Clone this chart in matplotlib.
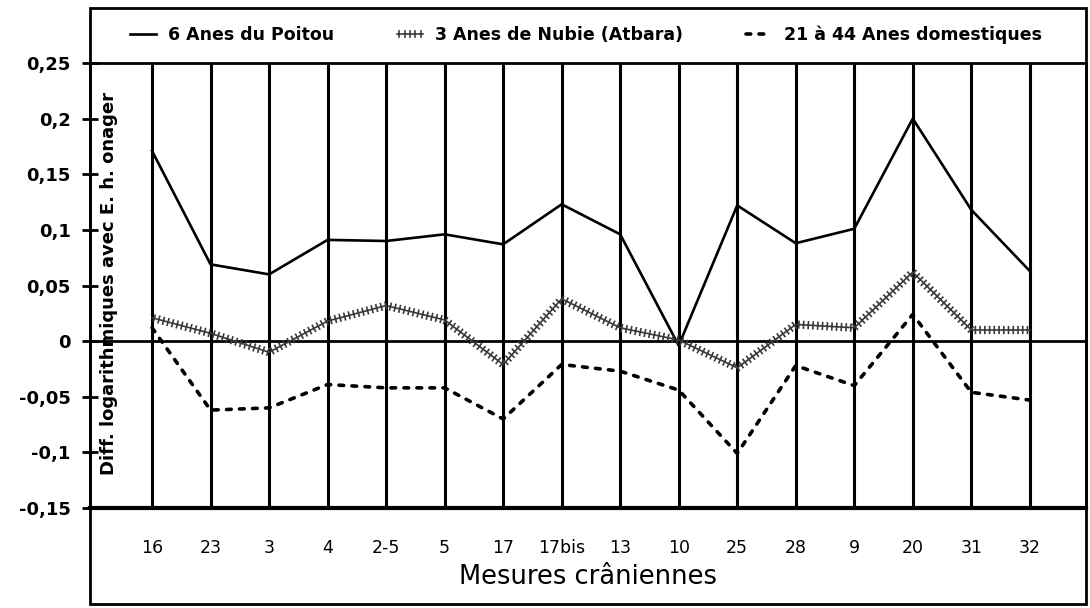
import matplotlib
matplotlib.use("Agg")
import matplotlib.pyplot as plt
import matplotlib.patheffects as pe
from matplotlib.patches import Rectangle

# data
mesures = ['16', '23', '3', '4', '2-5', '5', '17', '17bis', '13', '10',
           '25', '28', '9', '20', '31', '32']
poitou = [0.171, 0.069, 0.060, 0.091, 0.090, 0.096, 0.087, 0.123, 0.096, -0.004,
          0.122, 0.088, 0.101, 0.200, 0.118, 0.063]
nubie = [0.021, 0.007, -0.010, 0.018, 0.032, 0.019, -0.021, 0.038, 0.012, 0.001,
         -0.024, 0.015, 0.012, 0.062, 0.010, 0.010]
domestiques = [0.012, -0.062, -0.060, -0.039, -0.042, -0.042, -0.070, -0.021, -0.027, -0.044,
               -0.101, -0.022, -0.040, 0.024, -0.046, -0.053]
y_ticks = [-0.15, -0.1, -0.05, 0, 0.05, 0.1, 0.15, 0.2, 0.25]
y_labels = ['-0,15', '-0,1', '-0,05', '0', '0,05', '0,1', '0,15', '0,2', '0,25']

W, H = 1090, 608
fig = plt.figure(figsize=(W / 100, H / 100), dpi=100)
ax = fig.add_axes([90 / W, 1 - 508 / H, (1086 - 90) / W, (508 - 63) / H])

x = list(range(len(mesures)))

ax.plot(x, poitou, color='black', lw=1.9, label='6 Anes du Poitou', zorder=4)
ax.plot(x, nubie, color='#3a3a3a', lw=1.2, label='3 Anes de Nubie (Atbara)', zorder=4,
        path_effects=[pe.withTickedStroke(angle=90, spacing=3.4, length=0.7),
                      pe.TickedStroke(angle=-90, spacing=3.4, length=0.7)])
ax.plot(x, domestiques, color='black', lw=2.6, linestyle=(0, (1.3, 2.3)),
        dash_capstyle='round', label='21 à 44 Anes domestiques', zorder=4)

ax.axhline(0, color='black', lw=2, zorder=3)
for xi in x:
    ax.axvline(xi, color='black', lw=2.2, zorder=2)

ax.set_xlim(-1.06, 15.96)
ax.set_ylim(-0.15, 0.25)
ax.set_yticks(y_ticks)
ax.set_yticklabels(y_labels, fontsize=13, fontweight='bold')
ax.set_xticks(x)
ax.set_xticklabels(mesures, fontsize=12.5)
ax.tick_params(axis='x', length=0, pad=22)
ax.tick_params(axis='y', direction='inout', length=12, width=2, pad=8)

for side in ['left', 'right', 'top']:
    ax.spines[side].set_linewidth(2)
ax.spines['bottom'].set_linewidth(3)

ax.set_xlabel('Mesures crâniennes', fontsize=18.5, labelpad=5)
ax.text(-0.73, 0.052, 'Diff. logarithmiques avec E. h. onager', rotation=90,
        ha='center', va='center', fontsize=13, fontweight='bold')

# outer frame around legend and x labels
fig.add_artist(Rectangle((90 / W, 1 - 604 / H), (1086 - 90) / W, (604 - 8) / H,
                         transform=fig.transFigure, fill=False, lw=2, ec='black'))

fig.legend(loc='center', bbox_to_anchor=(586 / W, 1 - 35 / H), ncol=3, frameon=False,
           handlelength=1.5, columnspacing=3.6, handletextpad=0.7,
           prop={'size': 12.5, 'weight': 'bold'})

fig.savefig('out.png', dpi=100)
